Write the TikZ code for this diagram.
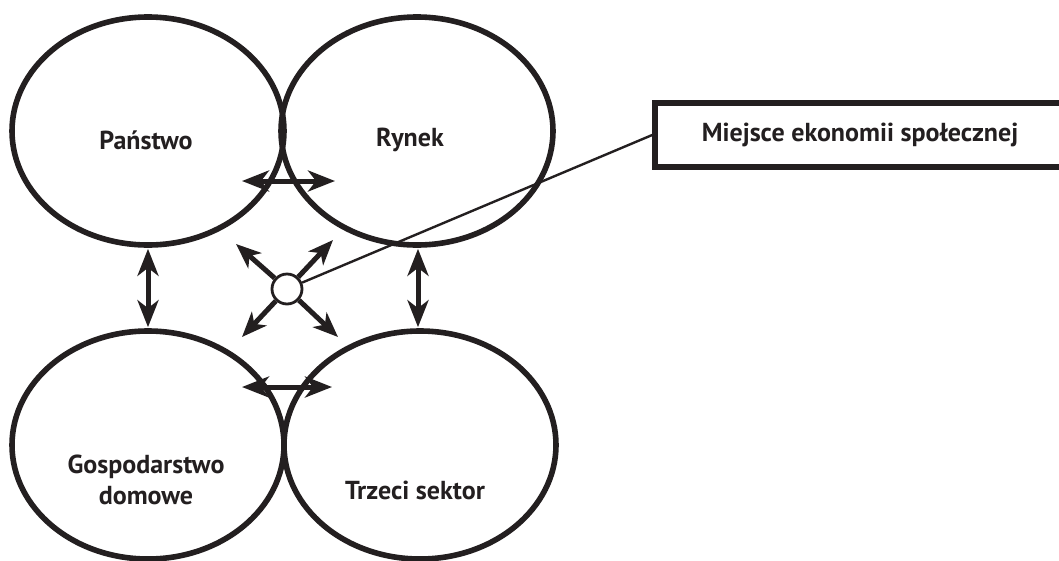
\documentclass[tikz,border=0pt]{standalone}
\usepackage{fontspec}
\usepackage{xcolor}
\usepackage{tikz}
\usetikzlibrary{arrows.meta,positioning,shapes.geometric,calc}

\setmainfont{PT Sans}
\definecolor{ciemny}{RGB}{35,31,32}

\begin{document}
\begin{tikzpicture}[
  x=1pt, y=-1pt,
  sfera/.style={ellipse, draw=ciemny, line width=5.6pt, minimum width=272pt, minimum height=228pt, inner sep=0pt},
  napis/.style={font=\bfseries\fontsize{26}{31}\selectfont, text=ciemny, align=center, inner sep=0pt},
  dwustr/.style={{Stealth[length=27pt,width=21pt,inset=8pt]}-{Stealth[length=27pt,width=21pt,inset=8pt]}, line width=5pt, draw=ciemny},
  strz/.style={-{Stealth[length=25pt,width=20pt,inset=7pt]}, line width=5pt, draw=ciemny},
  ramka/.style={rectangle, draw=ciemny, line width=5.6pt, minimum width=410pt, minimum height=64pt, font=\bfseries\fontsize{26}{31}\selectfont, text=ciemny}
]
  \useasboundingbox (0,0) rectangle (1059,560);

  % cztery sfery
  \node[sfera] (panstwo) at (148,131) {};
  \node[sfera] (rynek) at (417,131) {};
  \node[sfera] (gosp) at (148,445) {};
  \node[sfera] (trzeci) at (420,445) {};

  \node[napis] (tpanstwo) at (146,140) {Państwo};
  \node[napis] (trynek) at (410,140) {Rynek};
  \node[napis] (tgosp) at (146,480) {Gospodarstwo\\domowe};
  \node[napis] (ttrzeci) at (415,490) {Trzeci sektor};

  % powiazania miedzy sferami
  \coordinate (pr1) at ($(panstwo.center)+(94,50)$);
  \coordinate (pr2) at ($(rynek.center)+(-82,50)$);
  \coordinate (gt1) at ($(gosp.center)+(94,-58)$);
  \coordinate (gt2) at ($(trzeci.center)+(-88,-58)$);
  \draw[dwustr] (pr1) -- (pr2);
  \draw[dwustr] (gt1) -- (gt2);
  \draw[dwustr, shorten <=1pt, shorten >=1pt] (panstwo.south) -- (gosp.north);
  \draw[dwustr, shorten <=1pt, shorten >=1pt] ([xshift=1pt]rynek.south) -- ([xshift=-2pt]trzeci.north);

  % punkt w srodku
  \node[circle, draw=ciemny, fill=white, line width=2.8pt, minimum size=30pt, inner sep=0pt] (srodek) at (287,289) {};
  \coordinate (ul) at ($(srodek)+(-51,-45)$);
  \coordinate (ur) at ($(srodek)+(46,-49)$);
  \coordinate (dl) at ($(srodek)+(-45,48)$);
  \coordinate (dr) at ($(srodek)+(51,48)$);
  \foreach \k in {ul,ur,dl,dr}
    \draw[strz] (srodek) -- (\k);

  % opis
  \node[ramka] (miejsce) at (860,135) {Miejsce ekonomii społecznej};
  \draw[ciemny, line width=2.4pt] (srodek) -- (miejsce.west);
\end{tikzpicture}
\end{document}
